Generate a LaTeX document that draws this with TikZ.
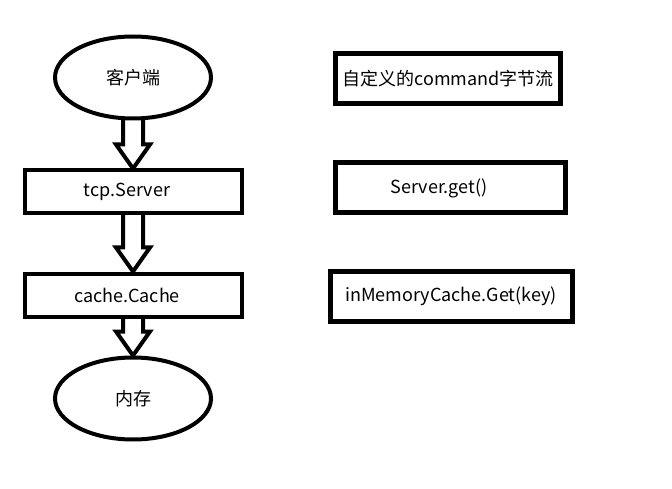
\documentclass[tikz,border=0pt]{standalone}
\usepackage{fontspec}
\setmainfont{Noto Sans CJK SC}
\usetikzlibrary{shapes.geometric, positioning, calc}

% hollow block arrow from the bottom of #1 to the top of #2
\newcommand{\blockarrow}[2]{%
  \draw[blk] ($(#1.south -| #2.north)+(-10,2)$) -- ($(#2.north)+(-10,24)$)
    -- ($(#2.north)+(-17,24)$) -- (#2.north) -- ($(#2.north)+(17,24)$)
    -- ($(#2.north)+(10,24)$) -- ($(#1.south -| #2.north)+(10,2)$);}
% text that sits a little left of centre
\newcommand{\boxtext}[2][12pt]{#2\hspace*{#1}}

\begin{document}
\begin{tikzpicture}[
  x=1pt, y=1pt,
  node distance=48pt,
  term/.style={draw, ellipse, line width=4pt, minimum width=156pt,
               minimum height=82pt, font=\fontsize{18}{21}\selectfont},
  box/.style={draw, line width=4pt, minimum width=217pt, minimum height=43pt,
              font=\fontsize{18}{21}\selectfont},
  note/.style={draw, line width=5pt, minimum height=50pt,
               font=\fontsize{18}{21}\selectfont},
  blk/.style={line width=4pt, line join=miter}
]
\useasboundingbox (0,0) rectangle (672,-489);

\node[term] (client) at (133,-77.5) {客户端};
\node[box, below=48pt of client] (server) {\boxtext{tcp.Server}};
\node[box, below=56pt of server] (cache) {\boxtext{cache.Cache}};
\node[term, below=37pt of cache] (mem) {内存};

\node[note, minimum width=225pt] (cmd) at (448,-79) {自定义的command字节流};
\node[note, minimum width=230pt] (get) at (450,-188) {\boxtext[22pt]{Server.get()}};
\node[note, minimum width=242pt] (getkey) at (451,-296) {inMemoryCache.Get(key)};

\blockarrow{client}{server}
\blockarrow{server}{cache}
\blockarrow{cache}{mem}
\end{tikzpicture}
\end{document}
